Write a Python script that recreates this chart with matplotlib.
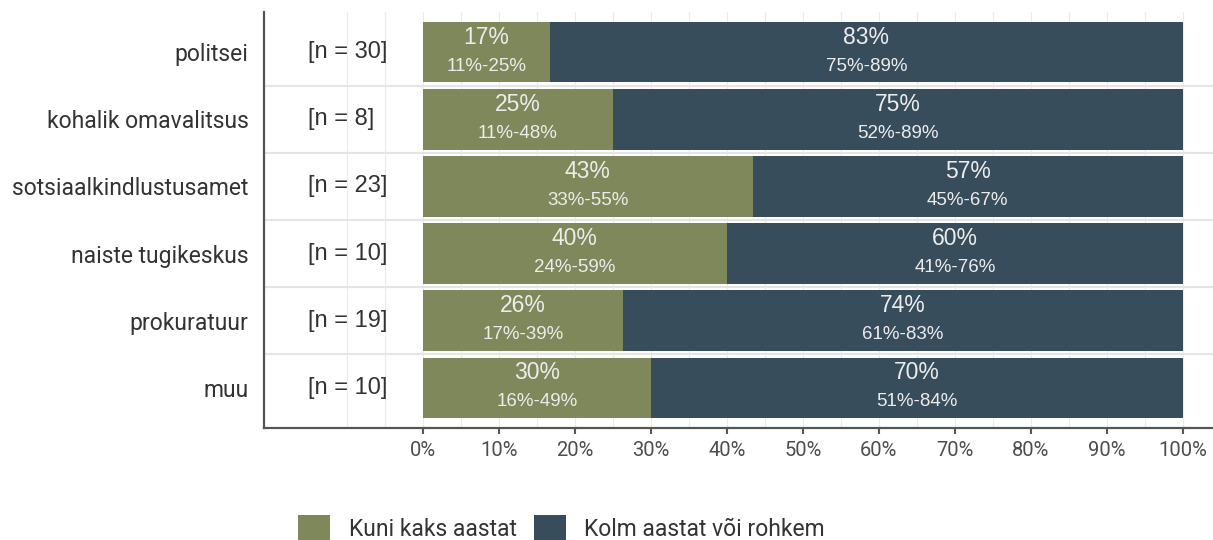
import matplotlib.pyplot as plt
from matplotlib.patches import Patch

# data, top row first
categories = ["politsei", "kohalik omavalitsus", "sotsiaalkindlustusamet",
              "naiste tugikeskus", "prokuratuur", "muu"]
n_counts = [30, 8, 23, 10, 19, 10]
share_short = [16.7, 25.0, 43.4, 40.0, 26.3, 30.0]
share_long = [83.3, 75.0, 56.6, 60.0, 73.7, 70.0]
ci_short = ["11%-25%", "11%-48%", "33%-55%", "24%-59%", "17%-39%", "16%-49%"]
ci_long = ["75%-89%", "52%-89%", "45%-67%", "41%-76%", "61%-83%", "51%-84%"]
series_names = ["Kuni kaks aastat", "Kolm aastat või rohkem"]

GREEN = "#7F885A"
DARK = "#384D5B"
TXT = "#333333"
LABEL = "#ECECEC"

plt.rcParams["font.family"] = ["Roboto", "DejaVu Sans"]

fig = plt.figure(figsize=(12.13, 5.40), dpi=100)
ax = fig.add_axes([264 / 1213, 112 / 540, 949 / 1213, 416 / 540])

ypos = list(range(len(categories), 0, -1))

# grid
for gx in range(-10, 101, 5):
    ax.axvline(gx, color="#EBEBEB", lw=0.8, zorder=0)
for y in ypos[:-1]:
    ax.axhline(y - 0.5, color="#E5E5E5", lw=1.6, zorder=0)

ax.barh(ypos, share_short, height=0.9, color=GREEN, zorder=2)
ax.barh(ypos, share_long, left=share_short, height=0.9, color=DARK, zorder=2)

for y, s, l, cs, cl, n in zip(ypos, share_short, share_long, ci_short, ci_long, n_counts):
    xs = s / 2
    xl = s + l / 2
    ax.text(xs, y + 0.22, f"{s:.0f}%", ha="center", va="center", color=LABEL,
            fontsize=16.5, family="Liberation Sans", zorder=3)
    ax.text(xs, y - 0.21, cs, ha="center", va="center", color=LABEL,
            fontsize=13.5, family="Liberation Sans", zorder=3)
    ax.text(xl, y + 0.22, f"{l:.0f}%", ha="center", va="center", color=LABEL,
            fontsize=16.5, family="Liberation Sans", zorder=3)
    ax.text(xl, y - 0.21, cl, ha="center", va="center", color=LABEL,
            fontsize=13.5, family="Liberation Sans", zorder=3)
    ax.text(-15.1, y, f"[n = {n}]", ha="left", va="center", color=TXT,
            fontsize=17, family="Liberation Sans")

ax.set_xlim(-20.9, 103.95)
ax.set_ylim(0.4, len(categories) + 0.6)

ax.set_yticks(ypos)
ax.set_yticklabels(categories, fontsize=16.5, color=TXT)
ax.tick_params(axis="y", length=0, pad=11)

ax.set_xticks(range(0, 101, 10))
ax.set_xticklabels([f"{v}%" for v in range(0, 101, 10)], fontsize=14.5, color="#4D4D4D")
ax.tick_params(axis="x", length=4, width=1.5, color="#555555", pad=5)

for side in ["top", "right"]:
    ax.spines[side].set_visible(False)
for side in ["left", "bottom"]:
    ax.spines[side].set_color("#555555")
    ax.spines[side].set_linewidth(1.6)

handles = [Patch(facecolor=GREEN, edgecolor="none"), Patch(facecolor=DARK, edgecolor="none")]
fig.legend(handles, series_names, loc="center", bbox_to_anchor=(0.463, 0.022), ncol=2,
           frameon=False, fontsize=16.5, handlelength=1.4, handleheight=1.4,
           handletextpad=0.8, columnspacing=0.75, labelcolor=TXT)

fig.savefig("out.png", dpi=100)
